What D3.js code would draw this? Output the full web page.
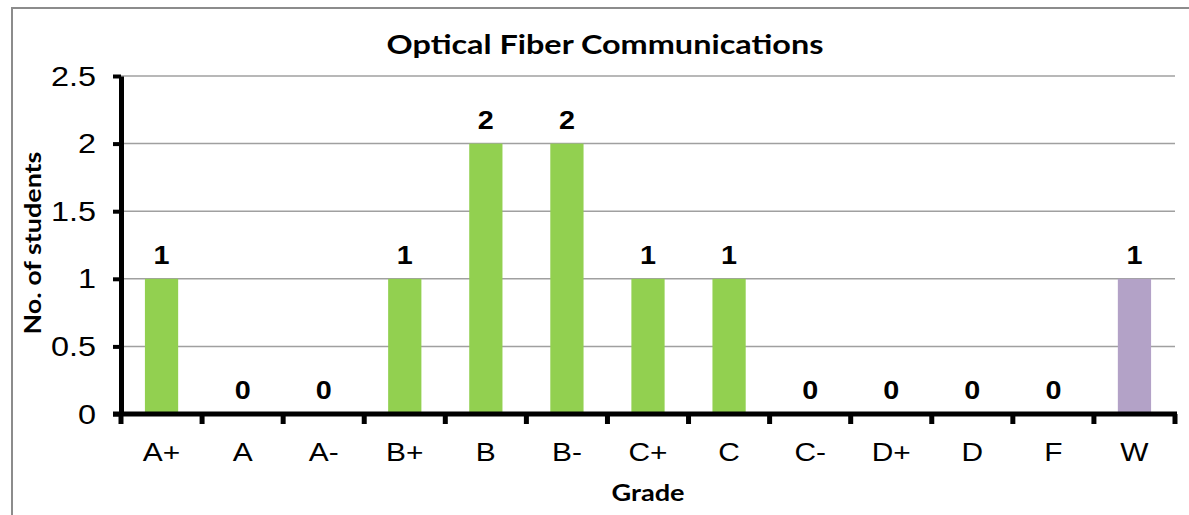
<!DOCTYPE html>
<html>
<head>
<meta charset="utf-8">
<script src="https://cdn.jsdelivr.net/npm/d3@7"></script>
<style>
  body { margin: 0; background: #fff; }
  svg { display: block; }
</style>
</head>
<body>
<div id="chart"></div>
<script>
const grades = ['A+', 'A', 'A-', 'B+', 'B', 'B-', 'C+', 'C', 'C-', 'D+', 'D', 'F', 'W']
const students = [1, 0, 0, 1, 2, 2, 1, 1, 0, 0, 0, 0, 1]
const yTicks = [0, 0.5, 1, 1.5, 2, 2.5]

const WIDTH = 1189
const HEIGHT = 515
const GREEN = '#92d050'
const PURPLE = '#b3a2c7'

// the source fonts run wider than the local ones, so text gets stretched a bit
const ARIAL = '"Liberation Sans", Arial, sans-serif'
const CALIBRI = 'Lato, "Open Sans", sans-serif'

const svg = d3.select('#chart')
    .append('svg')
    .attr('width', WIDTH)
    .attr('height', HEIGHT)

function addText(parent, px, py, str, font, sx, rotate) {
    return parent.append('text')
        .attr('transform', `translate(${px},${py})` + (rotate ? ` rotate(${rotate})` : '') + ` scale(${sx},1)`)
        .style('font', font)
        .attr('fill', '#000')
        .text(str)
}

// chart frame, runs off the right and bottom edges like the screenshot
svg.append('rect')
    .attr('x', 12)
    .attr('y', 8)
    .attr('width', WIDTH + 20)
    .attr('height', HEIGHT + 20)
    .attr('fill', 'none')
    .attr('stroke', '#8c8c8c')
    .attr('stroke-width', 2)

const x = d3.scaleBand().domain(grades).range([121, 1175]).paddingInner(0.59).paddingOuter(0.295)
const xb = d3.scaleBand().domain(grades).range([121, 1175])
const y = d3.scaleLinear().domain([0, 2.5]).range([414, 76])

// gridlines
svg.append('g')
    .selectAll('line')
    .data(yTicks.filter(d => d > 0))
    .enter()
    .append('line')
    .attr('x1', 121)
    .attr('x2', 1175)
    .attr('y1', d => y(d))
    .attr('y2', d => y(d))
    .attr('stroke', '#a0a0a0')
    .attr('stroke-width', 1.5)

// bars
svg.append('g')
    .selectAll('rect')
    .data(grades)
    .enter()
    .append('rect')
    .attr('x', d => x(d))
    .attr('width', x.bandwidth())
    .attr('y', (d, i) => y(students[i]))
    .attr('height', (d, i) => y(0) - y(students[i]))
    .attr('fill', d => d === 'W' ? PURPLE : GREEN)

// value labels
const valLabels = svg.append('g').attr('text-anchor', 'middle')
grades.forEach((g, i) => {
    addText(valLabels, x(g) + x.bandwidth() / 2, y(students[i]) - 15, students[i], `bold 25px ${ARIAL}`, 1.15)
})

// y axis
const yAxis = svg.append('g')
    .attr('transform', 'translate(121,0)')
    .call(d3.axisLeft(y).tickValues(yTicks).tickSize(8).tickSizeOuter(0).tickFormat(''))
yAxis.select('.domain').attr('stroke-width', 5)
yAxis.selectAll('.tick line').attr('stroke-width', 4)

const yLabels = svg.append('g').attr('text-anchor', 'end')
yTicks.forEach(t => {
    addText(yLabels, 96, y(t) + 9.5, d3.format('')(t), `27px ${ARIAL}`, 1.2)
})

// x axis with ticks between categories
const xAxis = svg.append('g')
    .attr('transform', 'translate(0,414)')
xAxis.append('line')
    .attr('x1', 113)
    .attr('x2', 1177)
    .attr('stroke', '#000')
    .attr('stroke-width', 5)
xAxis.selectAll('.sep')
    .data(grades.concat(['end']))
    .enter()
    .append('line')
    .attr('class', 'sep')
    .attr('x1', (d, i) => i < grades.length ? xb(d) : xb.range()[1])
    .attr('x2', (d, i) => i < grades.length ? xb(d) : xb.range()[1])
    .attr('y1', 0)
    .attr('y2', 10)
    .attr('stroke', '#000')
    .attr('stroke-width', 5)

const xLabels = svg.append('g').attr('text-anchor', 'middle')
grades.forEach(g => {
    addText(xLabels, xb(g) + xb.bandwidth() / 2, 461, g, `26px ${ARIAL}`, 1.15)
})

// titles
const titles = svg.append('g').attr('text-anchor', 'middle')
addText(titles, 605, 54, 'Optical Fiber Communications', `bold 27px ${CALIBRI}`, 1.2)
addText(titles, 648, 501, 'Grade', `bold 23px ${CALIBRI}`, 1.18)
addText(titles, 41, 243, 'No. of students', `bold 23px ${CALIBRI}`, 1.17, -90)
</script>
</body>
</html>
